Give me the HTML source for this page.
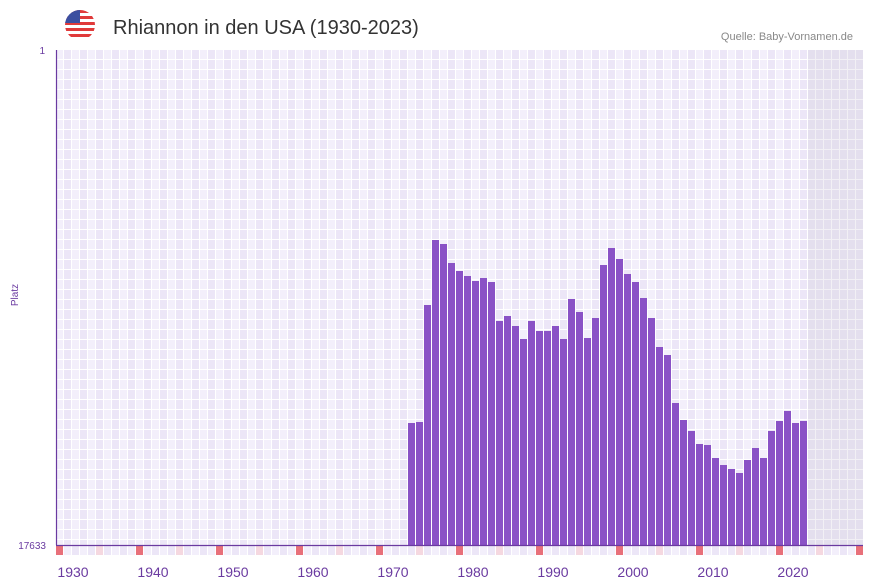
<!DOCTYPE html>
<html><head><meta charset="utf-8"><style>
body{margin:0;background:#fff;font-family:"Liberation Sans",sans-serif;}
</style></head><body>
<svg width="873" height="587" xmlns="http://www.w3.org/2000/svg" style="display:block">
<defs>
<pattern id="g" x="56" y="50" width="16" height="10" patternUnits="userSpaceOnUse">
<rect width="8" height="10" fill="#f3effb"/><rect x="8" width="8" height="10" fill="#ece6f7"/>
<rect x="7" width="1" height="10" fill="#fff"/><rect x="15" width="1" height="10" fill="#fff"/>
<rect y="9" width="16" height="1" fill="#fff"/>
</pattern>
<pattern id="g2" x="56" y="50" width="8" height="10" patternUnits="userSpaceOnUse">
<rect width="8" height="10" fill="#e4dfee"/>
<rect x="7" width="1" height="10" fill="#f2f0f5"/><rect y="9" width="8" height="1" fill="#f2f0f5"/>
</pattern>
<clipPath id="c"><circle cx="80" cy="25" r="15"/></clipPath>
</defs>
<g clip-path="url(#c)">
<rect x="65" y="10" width="30" height="30" fill="#fff"/>
<rect x="65" y="10" width="30" height="3" fill="#e03a3a"/>
<rect x="65" y="16" width="30" height="3" fill="#e03a3a"/>
<rect x="65" y="22" width="30" height="3" fill="#e03a3a"/>
<rect x="65" y="28" width="30" height="3" fill="#e03a3a"/>
<rect x="65" y="34" width="30" height="3" fill="#e03a3a"/>
<rect x="65" y="10" width="15" height="13" fill="#3c4fa0"/>
</g>
<text x="113" y="34" font-size="20" fill="#333">Rhiannon in den USA (1930-2023)</text>
<text x="853" y="40" font-size="11" fill="#888" text-anchor="end">Quelle: Baby-Vornamen.de</text>
<rect x="56" y="50" width="807" height="495" fill="url(#g)"/>
<rect x="808" y="50" width="55" height="495" fill="url(#g2)"/>
<g fill="#8a52c6" id="bars"></g>
<g id="marks"></g>
<line x1="56.5" y1="50" x2="56.5" y2="545" stroke="#6a3aa0" stroke-width="1.2"/>
<line x1="56" y1="545.5" x2="863" y2="545.5" stroke="#6a3aa0" stroke-width="1.2"/>
<text x="45" y="54" font-size="10" fill="#6a3aa0" text-anchor="end">1</text>
<text x="46" y="549" font-size="10" fill="#6a3aa0" text-anchor="end">17633</text>
<text transform="translate(18,295) rotate(-90)" font-size="10" fill="#6a3aa0" text-anchor="middle">Platz</text>
<g font-size="14" fill="#6a3aa0" text-anchor="middle" id="xl"></g>
<script>
var tops=[423,422,305,240,244,263,271,276,281,278,282,321,316,326,339,321,331,331,326,339,299,312,338,318,265,248,259,274,282,298,318,347,355,403,420,431,444,445,458,465,469,473,460,448,458,431,421,411,423,421];
var ns="http://www.w3.org/2000/svg",b=document.getElementById("bars");
tops.forEach(function(t,i){var r=document.createElementNS(ns,"rect");r.setAttribute("x",408+i*8);r.setAttribute("y",t);r.setAttribute("width",7);r.setAttribute("height",545-t);b.appendChild(r);});
var m=document.getElementById("marks");
for(var i=0;i<101;i++){var r=document.createElementNS(ns,"rect");r.setAttribute("x",56+i*8);r.setAttribute("y",546);r.setAttribute("width",7);r.setAttribute("height",9);
var c=i%10==0?"#e8707a":(i%10==5?"#f5d8e0":(i%2?"#f3effb":"#ece6f7"));r.setAttribute("fill",c);m.appendChild(r);}
var xl=document.getElementById("xl");
for(var y=1930;y<=2020;y+=10){var t=document.createElementNS(ns,"text");t.setAttribute("x",56+(y-1928)*8+1);t.setAttribute("y",577);t.textContent=y;xl.appendChild(t);}
</script>
</svg>
</body></html>
